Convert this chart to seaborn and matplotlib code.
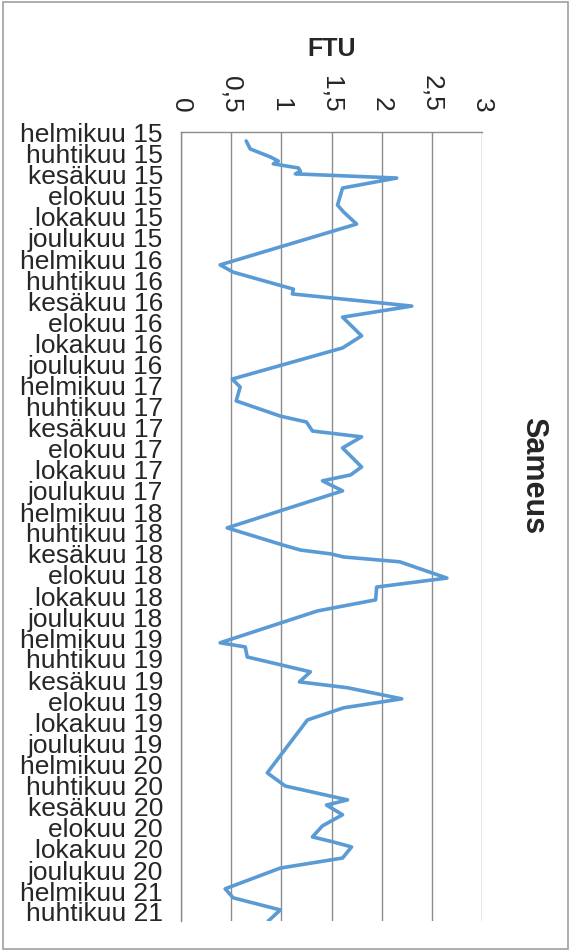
import numpy as np
import pandas as pd
import matplotlib
matplotlib.use("Agg")
import matplotlib.pyplot as plt
import matplotlib.dates as mdates
from matplotlib.patches import Rectangle
from matplotlib.ticker import FixedLocator, FixedFormatter, FuncFormatter
import seaborn as sns

# Sameus (FTU), sampling dates
dates = [
    "2015-02-27", "2015-03-22", "2015-04-14", "2015-04-26", "2015-05-04", "2015-05-16",
    "2015-05-25", "2015-06-02", "2015-06-14", "2015-07-13", "2015-08-31", "2015-09-20",
    "2015-10-25", "2016-02-20", "2016-03-12", "2016-04-30", "2016-05-14", "2016-06-18",
    "2016-07-20", "2016-09-12", "2016-10-17", "2017-01-15", "2017-02-07", "2017-03-19",
    "2017-05-02", "2017-05-19", "2017-06-14", "2017-07-01", "2017-08-02", "2017-09-26",
    "2017-10-19", "2017-11-05", "2017-12-04", "2018-03-21", "2018-05-09", "2018-05-24",
    "2018-06-04", "2018-06-13", "2018-06-27", "2018-08-13", "2018-09-08", "2018-10-15",
    "2018-11-16", "2019-02-16", "2019-02-28", "2019-03-29", "2019-05-11", "2019-06-09",
    "2019-06-26", "2019-07-28", "2019-08-23", "2019-09-27", "2020-02-27", "2020-04-05",
    "2020-05-15", "2020-05-30", "2020-06-27", "2020-07-29", "2020-08-30", "2020-09-13",
    "2020-09-28", "2020-10-30", "2020-11-28", "2021-01-27", "2021-02-22", "2021-03-29",
    "2021-04-30",
]
ftu = [
    0.65, 0.69, 0.89, 0.97, 0.92, 1.17,
    1.19, 1.14, 2.15, 1.61, 1.56, 1.62,
    1.75, 0.39, 0.52, 1.12, 1.11, 2.30,
    1.61, 1.80, 1.61, 0.51, 0.59, 0.55,
    0.99, 1.25, 1.31, 1.80, 1.61, 1.80,
    1.69, 1.41, 1.61, 0.46, 1.01, 1.19,
    1.49, 1.62, 2.18, 2.65, 1.95, 1.94,
    1.36, 0.39, 0.64, 0.66, 1.29, 1.18,
    1.66, 2.20, 1.62, 1.26, 0.86, 1.04,
    1.66, 1.45, 1.61, 1.41, 1.31, 1.51,
    1.70, 1.61, 0.99, 0.44, 0.52, 0.99,
    0.87,
]

month_names = {2: "helmikuu", 4: "huhtikuu", 6: "kesäkuu",
               8: "elokuu", 10: "lokakuu", 12: "joulukuu"}
x_ticks = [0, 0.5, 1, 1.5, 2, 2.5, 3]
x_labels = ["0", "0,5", "1", "1,5", "2", "2,5", "3"]
axis_start = "2015-02-01"
axis_end = "2021-04-30"

df = pd.DataFrame({"date": pd.to_datetime(dates), "FTU": ftu})

sns.set_style("white")
plt.rcParams["font.family"] = ["Liberation Sans", "DejaVu Sans"]

fig = plt.figure(figsize=(5.7, 9.53), dpi=100)
ax = fig.add_axes([181 / 570, 31 / 953, 301 / 570, 789 / 953])

sns.lineplot(data=df, x="FTU", y="date", orient="y", estimator=None,
             color="#5B9BD5", linewidth=2.6, ax=ax)

ax.set_xlim(0, 3)
ax.set_ylim(pd.Timestamp(axis_end), pd.Timestamp(axis_start))

# value axis on top, labels turned like the rotated Excel chart
ax.xaxis.tick_top()
ax.xaxis.set_label_position("top")
ax.xaxis.set_major_locator(FixedLocator(x_ticks))
ax.xaxis.set_major_formatter(FixedFormatter(x_labels))
ax.tick_params(axis="x", length=0, pad=15, labelsize=19, labelrotation=270)
ax.set_xlabel("FTU", fontsize=18, fontweight="bold", labelpad=14)

ax.yaxis.set_major_locator(mdates.MonthLocator(bymonth=list(month_names)))
ax.yaxis.set_major_formatter(FuncFormatter(
    lambda v, pos: f"{month_names[mdates.num2date(v).month]} {mdates.num2date(v).year % 100:02d}"))
ax.tick_params(axis="y", length=0, pad=13, labelsize=19)
ax.set_ylabel("")

ax.grid(axis="x", color="#8C8C8C", linewidth=1)
ax.grid(axis="y", visible=False)
for side in ["right", "bottom"]:
    ax.spines[side].set_visible(False)
for side in ["left", "top"]:
    ax.spines[side].set_color("#8C8C8C")
    ax.spines[side].set_linewidth(1)

fig.text(533 / 570, 1 - 476 / 953, "Sameus", rotation=270, fontsize=22,
         fontweight="bold", ha="center", va="center")

fig.patches.append(Rectangle((3 / 570, 3 / 953), 565 / 570, 947 / 953,
                             transform=fig.transFigure, fill=False,
                             edgecolor="#A0A0A0", linewidth=1.2))

fig.savefig("out.png", dpi=100)
